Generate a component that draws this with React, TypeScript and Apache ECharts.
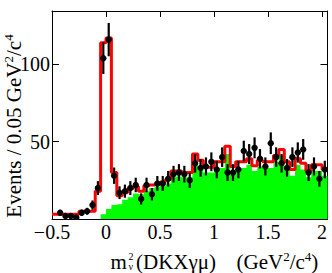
import React, { useEffect, useRef } from "react";
import * as echarts from "echarts";

// Bin low edges (bin width 0.05 GeV^2/c^4)
const binLow = [
  -0.5, -0.45, -0.4, -0.35, -0.3, -0.25, -0.2, -0.15, -0.1, -0.05,
  0, 0.05, 0.1, 0.15, 0.2, 0.25, 0.3, 0.35, 0.4, 0.45,
  0.5, 0.55, 0.6, 0.65, 0.7, 0.75, 0.8, 0.85, 0.9, 0.95,
  1, 1.05, 1.1, 1.15, 1.2, 1.25, 1.3, 1.35, 1.4, 1.45,
  1.5, 1.55, 1.6, 1.65, 1.7, 1.75, 1.8, 1.85, 1.9, 1.95, 2,
];
const BIN_WIDTH = 0.05;
const X_MIN = -0.5;
const X_MAX = 2.05;
const Y_MIN = 0;
const Y_MAX = 134.5;

// Data counts (black points)
const dataCounts = [
  0, 4, 2, 2, 1, 4, 5, 9, 20, 104, 116,
  28, 17, 18, 20, 22, 13, 22, 16, 23, 23,
  26, 29, 30, 29, 25, 36, 33, 34, 37, 32,
  40, 30, 30, 32, 44, 42, 46, 39, 34, 49,
  40, 36, 33, 40, 43, 45, 30, 34, 26, 32,
];

// Total fit (red histogram)
const totalFit = [
  3, 3, 3, 3, 3, 5, 5, 5, 18, 114, 117,
  30, 15, 17, 19.5, 21, 18, 21.5, 22, 22.5, 24,
  25.5, 31, 31, 30, 30, 42, 38, 33.5, 33.5, 37,
  37, 47, 34, 37, 37, 39, 34.5, 38, 37, 37,
  41, 45, 37, 32, 39, 36, 31, 35, 35, 32,
];

// Background component (green filled histogram)
const background = [
  0, 0, 0, 0, 0, 0, 0, 0, 0, 3, 6.5,
  9, 9.5, 12.5, 14, 16.5, 16, 18, 20, 21, 21.5,
  23, 27, 27.5, 27, 27, 37, 34, 30, 30, 33,
  33, 42, 30, 33, 33, 35, 31, 34, 33, 33,
  37, 41, 33, 28, 35, 32, 27, 31, 31, 28,
];

const xTickLabels = ["−0.5", "0", "0.5", "1", "1.5", "2"];
const yTickLabels = ["50", "100"];

const FONT = "'Liberation Serif', 'DejaVu Serif', serif";

function stepData(vals: number[]) {
  const pts: number[][] = binLow.map((x, i) => [x, vals[i]]);
  pts.push([X_MAX, vals[vals.length - 1]]);
  return pts;
}

function fmtX(v: number) {
  const r = Math.round(v * 100) / 100;
  const k = Math.round(r / 0.5);
  if (Math.abs(r - k * 0.5) > 1e-6) return "";
  const idx = k + 1;
  return xTickLabels[idx] ?? "";
}

function fmtY(v: number) {
  const r = Math.round(v);
  if (r === 50) return yTickLabels[0];
  if (r === 100) return yTickLabels[1];
  return "";
}

export default function App() {
  const ref = useRef<HTMLDivElement>(null);
  useEffect(() => {
    if (!ref.current) return;
    const chart = echarts.init(ref.current, null, { renderer: "svg" });
    const axisLine = { show: true, onZero: false, lineStyle: { color: "#000", width: 1 } };
    const pointsData = binLow.map((x, i) => [x + BIN_WIDTH / 2, dataCounts[i]]);
    const richMain = {
      a: { fontSize: 21, lineHeight: 24, fontFamily: FONT, color: "#000" },
      s: { fontSize: 13, lineHeight: 13, verticalAlign: "top", fontFamily: FONT, color: "#000" },
    };
    chart.setOption({
      animation: false,
      backgroundColor: "#fff",
      grid: { left: 52, right: 4.5, top: 11, bottom: 54, containLabel: false },
      xAxis: [
        {
          type: "value",
          position: "bottom",
          min: X_MIN,
          max: X_MAX,
          interval: 0.5,
          axisLine,
          axisTick: { show: true, inside: true, length: 6, lineStyle: { color: "#000" } },
          splitLine: { show: false },
          axisLabel: {
            show: true,
            showMinLabel: true,
            showMaxLabel: true,
            margin: 3,
            fontSize: 20,
            fontFamily: FONT,
            color: "#000",
            formatter: fmtX,
          },
        },
        {
          type: "value",
          position: "top",
          min: X_MIN,
          max: X_MAX,
          interval: 0.5,
          axisLine,
          axisTick: { show: true, inside: true, length: 6, lineStyle: { color: "#000" } },
          splitLine: { show: false },
          axisLabel: { show: false },
        },
      ],
      yAxis: [
        {
          type: "value",
          position: "left",
          min: Y_MIN,
          max: Y_MAX,
          interval: 50,
          axisLine,
          axisTick: { show: true, inside: true, length: 7, lineStyle: { color: "#000" } },
          splitLine: { show: false },
          axisLabel: {
            show: true,
            margin: 2,
            fontSize: 20,
            fontFamily: FONT,
            color: "#000",
            formatter: fmtY,
          },
        },
        {
          type: "value",
          position: "right",
          min: Y_MIN,
          max: Y_MAX,
          interval: 50,
          axisLine,
          axisTick: { show: true, inside: true, length: 7, lineStyle: { color: "#000" } },
          splitLine: { show: false },
          axisLabel: { show: false },
        },
      ],
      series: [
        {
          type: "line",
          name: "background",
          xAxisIndex: 0,
          yAxisIndex: 0,
          step: "end",
          symbol: "none",
          data: stepData(background),
          lineStyle: { width: 0, color: "#00ff00" },
          areaStyle: { color: "#00ff00", opacity: 1, origin: "start" },
          z: 1,
        },
        {
          type: "line",
          name: "total",
          xAxisIndex: 0,
          yAxisIndex: 0,
          step: "end",
          symbol: "none",
          data: stepData(totalFit),
          lineStyle: { width: 3, color: "#ff0000" },
          z: 2,
        },
        {
          type: "custom",
          name: "data",
          xAxisIndex: 0,
          yAxisIndex: 0,
          clip: true,
          data: pointsData,
          z: 3,
          renderItem: (params: any, api: any) => {
            const x = api.value(0);
            const v = api.value(1);
            if (!(v > 0)) return null;
            const err = Math.sqrt(v);
            const c = api.coord([x, v]);
            const t = api.coord([x, v + err]);
            const b = api.coord([x, Math.max(Y_MIN, v - err)]);
            return {
              type: "group",
              children: [
                {
                  type: "line",
                  shape: { x1: c[0], y1: t[1], x2: c[0], y2: b[1] },
                  style: { stroke: "#000", lineWidth: 2.2 },
                },
                {
                  type: "circle",
                  shape: { cx: c[0], cy: c[1], r: 3.2 },
                  style: { fill: "#000" },
                },
              ],
            };
          },
        },
      ],
      graphic: [
        {
          type: "text",
          x: 13.5,
          y: 126,
          rotation: Math.PI / 2,
          style: {
            text: "{a|Events / 0.05 GeV}{s|2}{a|/c}{s|4}",
            rich: richMain,
            align: "center",
            verticalAlign: "middle",
          },
        },
        {
          type: "text",
          x: 110.5,
          y: 262,
          style: {
            text: "m",
            fontSize: 21,
            fontFamily: FONT,
            fill: "#000",
            align: "left",
            verticalAlign: "middle",
          },
        },
        {
          type: "text",
          x: 128.5,
          y: 261.5,
          style: {
            text: "2\nν",
            fontSize: 10,
            lineHeight: 10,
            fontFamily: FONT,
            fill: "#000",
            align: "left",
            verticalAlign: "middle",
          },
        },
        {
          type: "text",
          x: 136,
          y: 262,
          style: {
            text: "(DKXγμ)",
            fontSize: 21,
            fontFamily: FONT,
            fill: "#000",
            align: "left",
            verticalAlign: "middle",
          },
        },
        {
          type: "text",
          x: 236.5,
          y: 262,
          style: {
            text: "{a|(GeV}{s|2}{a|/c}{s|4}{a|)}",
            rich: richMain,
            align: "left",
            verticalAlign: "middle",
          },
        },
      ],
    });
    return () => chart.dispose();
  }, []);
  return (
    <div
      ref={ref}
      style={{ position: "absolute", left: 0, top: 0, width: 332, height: 273 }}
    />
  );
}
